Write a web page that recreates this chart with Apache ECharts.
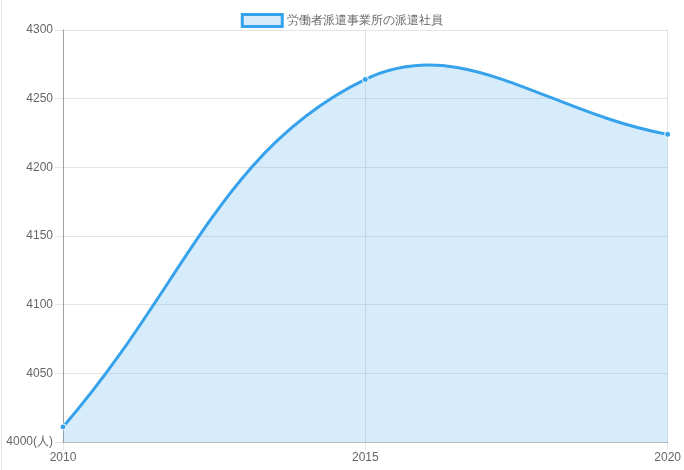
<!DOCTYPE html>
<html>
<head>
<meta charset="utf-8">
<script src="https://cdn.jsdelivr.net/npm/echarts@6/dist/echarts.min.js"></script>
<style>
  html, body { margin: 0; padding: 0; background: #fff; }
  #wrap { position: relative; width: 684px; height: 470px; }
  #wrap:before { content: ''; position: absolute; left: 1px; top: 0; bottom: 0; width: 1px; background: #e4e4e4; z-index: 2; }
  #chart { width: 684px; height: 470px; }
</style>
</head>
<body>
<div id="wrap"><div id="chart"></div></div>
<script>
'use strict';

// data
let years = [2010, 2015, 2020];
let workers = [4011, 4264, 4224];
let seriesName = '労働者派遣事業所の派遣社員';
let yTicks = [4000, 4050, 4100, 4150, 4200, 4250, 4300];

let blue = '#36a2eb';
let fillBlue = 'rgba(54,162,235,0.2)';
let tension = 0.4;

let myChart = echarts.init(document.getElementById('chart'));

let points = years.map(function(y, i){
    return [y, workers[i]];
});

// bezier control points the way chart.js does it (pixel space)
let controlPoints = function(pts){
    return pts.map(function(p, i){
        let prev = pts[i - 1] || p;
        let next = pts[i + 1] || p;
        let d01 = Math.hypot(p[0] - prev[0], p[1] - prev[1]);
        let d12 = Math.hypot(next[0] - p[0], next[1] - p[1]);
        let sum = d01 + d12;
        let s01 = sum ? d01 / sum : 0;
        let s12 = sum ? d12 / sum : 0;
        let fa = tension * s01, fb = tension * s12;
        return {
            prev: [p[0] - fa * (next[0] - prev[0]), p[1] - fa * (next[1] - prev[1])],
            next: [p[0] + fb * (next[0] - prev[0]), p[1] + fb * (next[1] - prev[1])]
        };
    });
};

let renderCurve = function(params, api){
    if (params.dataIndex !== 0) return;
    let pts = points.map(function(p){ return api.coord(p); });
    let cps = controlPoints(pts);
    let base = api.coord([years[0], yTicks[0]])[1];
    let line = 'M' + pts[0][0] + ' ' + pts[0][1];
    for (let i = 1; i < pts.length; i++) {
        let a = cps[i - 1].next, b = cps[i].prev;
        line += ' C' + a[0] + ' ' + a[1] + ' ' + b[0] + ' ' + b[1] + ' ' + pts[i][0] + ' ' + pts[i][1];
    }
    let last = pts[pts.length - 1];
    let area = line + ' L' + last[0] + ' ' + base + ' L' + pts[0][0] + ' ' + base + ' Z';
    return {
        type: 'group',
        children: [
            { type: 'path', shape: { pathData: area }, style: { fill: fillBlue, stroke: null } },
            { type: 'path', shape: { pathData: line }, style: { fill: null, stroke: blue, lineWidth: 3 } }
        ]
    };
};

let option = {
    animation: false,
    textStyle: { fontFamily: 'Liberation Sans, Arial, sans-serif' },
    legend: {
        top: 8,
        left: 'center',
        itemWidth: 40,
        itemHeight: 12,
        itemGap: 10,
        textStyle: { color: '#666', fontSize: 12 },
        data: [{
            name: seriesName,
            icon: 'rect',
            itemStyle: { color: fillBlue, borderColor: blue, borderWidth: 3 }
        }]
    },
    grid: {
        left: 63,
        right: 16,
        top: 30,
        bottom: 28,
        containLabel: false
    },
    xAxis: {
        type: 'value',
        min: 2010,
        max: 2020,
        interval: 5,
        axisLine: { show: true, lineStyle: { color: '#bbb' } },
        axisTick: { show: true, length: 8, lineStyle: { color: 'rgba(0,0,0,0.1)' } },
        axisLabel: {
            color: '#666',
            fontSize: 12,
            margin: 10,
            formatter: function(v){ return String(v); }
        },
        splitLine: { show: true, lineStyle: { color: 'rgba(0,0,0,0.1)' } }
    },
    yAxis: {
        type: 'value',
        min: yTicks[0],
        max: yTicks[yTicks.length - 1],
        interval: 50,
        axisLine: { show: true, lineStyle: { color: '#a0a0a0' } },
        axisTick: { show: true, length: 8, lineStyle: { color: 'rgba(0,0,0,0.1)' } },
        axisLabel: {
            color: '#666',
            fontSize: 12,
            margin: 10,
            formatter: function(v){
                return v === yTicks[0] ? v + '(人)' : String(v);
            }
        },
        splitLine: { show: true, lineStyle: { color: 'rgba(0,0,0,0.1)' } }
    },
    series: [{
        name: seriesName,
        type: 'custom',
        data: points,
        renderItem: renderCurve,
        clip: false,
        silent: true
    }, {
        name: seriesName,
        type: 'scatter',
        data: points,
        symbol: 'circle',
        symbolSize: 6,
        itemStyle: { color: blue, borderColor: '#fff', borderWidth: 1, opacity: 1 },
        emphasis: { disabled: true },
        z: 3
    }]
};

myChart.setOption(option);
</script>
</body>
</html>
